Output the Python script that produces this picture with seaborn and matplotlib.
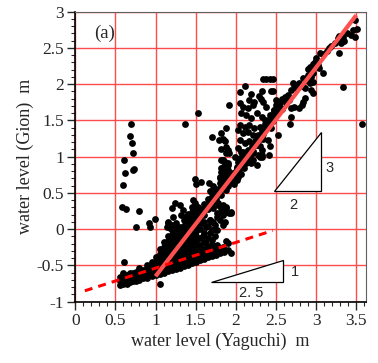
import numpy as np
import pandas as pd
import matplotlib.pyplot as plt
import seaborn as sns
from matplotlib.patches import Polygon
from matplotlib.ticker import MultipleLocator

sns.set_style("ticks")
plt.rcParams["font.family"] = ["Liberation Serif", "DejaVu Serif"]

# ---------------------------------------------------------------------------
# data: water level at Yaguchi (x) vs Gion (y), metres
# ---------------------------------------------------------------------------
# dense lower band, one column of y values per x
band_cols = {
    0.56: [-0.77, -0.72, -0.66],
    0.60: [-0.76, -0.70, -0.64, -0.60],
    0.64: [-0.75, -0.69, -0.63],
    0.68: [-0.73, -0.67, -0.61],
    0.72: [-0.72, -0.66, -0.60],
    0.76: [-0.71, -0.65, -0.59],
    0.80: [-0.70, -0.64, -0.58, -0.54],
    0.85: [-0.68, -0.62, -0.56],
    0.90: [-0.67, -0.60, -0.54, -0.49],
    0.95: [-0.65, -0.58, -0.52, -0.46],
    1.00: [-0.63, -0.56, -0.50, -0.44, -0.38],
    1.05: [-0.62, -0.55, -0.48, -0.41, -0.34, -0.28],
    1.10: [-0.60, -0.53, -0.46, -0.39, -0.32, -0.25, -0.18],
    1.15: [-0.58, -0.51, -0.44, -0.37, -0.30, -0.23, -0.16, -0.09],
    1.20: [-0.57, -0.50, -0.43, -0.36, -0.29, -0.22, -0.15, -0.08, -0.01],
    1.25: [-0.55, -0.48, -0.41, -0.34, -0.27, -0.20, -0.13, -0.06],
    1.30: [-0.53, -0.46, -0.39, -0.32, -0.25, -0.18, -0.11, -0.04, 0.03],
    1.35: [-0.51, -0.44, -0.37, -0.30, -0.23, -0.16, -0.09, -0.02, 0.05, 0.12],
    1.40: [-0.49, -0.42, -0.35, -0.28, -0.21, -0.14, -0.07, 0.00, 0.07, 0.14, 0.21],
    1.45: [-0.47, -0.40, -0.33, -0.26, -0.19, -0.12, -0.05, 0.02, 0.09, 0.16, 0.23, 0.30],
    1.50: [-0.45, -0.38, -0.31, -0.24, -0.17, -0.10, -0.03, 0.05, 0.12, 0.19, 0.26],
    1.55: [-0.43, -0.36, -0.29, -0.22, -0.12, 0.00, 0.14, 0.21, 0.28],
    1.60: [-0.41, -0.34, -0.27, -0.18, -0.05, 0.10, 0.20, 0.27, 0.34],
    1.65: [-0.39, -0.32, -0.25, -0.12, 0.05, 0.28, 0.35, 0.42],
    1.70: [-0.37, -0.30, -0.22, 0.36, 0.43, 0.50],
    1.75: [-0.35, -0.28, 0.42, 0.49, 0.56],
    1.80: [-0.33, -0.26, 0.50, 0.57, 0.64],
    1.85: [-0.31, 0.57, 0.64, 0.71],
    1.90: [-0.29, 0.65, 0.72, 0.79],
}

# scattered points to the left of the main cloud
left_x = [0.694, 0.685, 0.705, 0.72, 0.61, 0.72, 0.73, 0.62, 0.60, 0.585, 0.63,
          0.80, 0.995, 0.755, 0.92, 0.93, 0.606, 1.365, 1.53, 1.91, 1.05]
left_y = [1.45, 1.28, 1.19, 1.05, 0.95, 0.82, 0.83, 0.77, 0.61, 0.30, 0.28,
          0.255, 0.14, 0.035, 0.09, 0.035, -0.46, 1.455, 1.60, 1.71, -0.75]

# middle of the cloud, x 1.1 - 2.3
mid_x = [1.49, 1.50, 1.57, 1.67, 1.675, 1.70, 1.47, 1.49, 1.53, 1.59, 1.63, 1.72,
         1.82, 1.88, 1.90, 1.945, 1.97, 1.99, 2.01, 2.03, 1.84, 1.88, 1.86, 1.90, 1.92,
         1.78, 1.84, 1.88, 1.82, 1.92,
         1.30, 1.345, 1.32, 1.24, 1.20, 1.22, 1.16, 1.14, 1.20, 1.26, 1.28, 1.365, 1.385,
         1.45, 1.49, 1.51, 1.43, 1.57, 1.63, 1.68, 1.74,
         1.16, 1.18, 1.26, 1.30, 1.365,
         2.07, 2.11, 2.15, 2.19, 2.09, 2.05, 2.01, 1.80, 1.84, 1.88, 1.84, 1.90, 1.82,
         1.86, 2.32, 2.21, 2.26,
         1.72, 1.76, 1.70, 1.74, 1.78, 1.82, 1.72, 1.76, 1.84, 1.88, 1.945, 1.86, 1.84,
         1.80, 1.72, 1.70, 1.74, 1.70, 1.76, 1.88, 1.70,
         1.945, 1.90, 1.84, 1.76, 1.675, 1.59, 1.51,
         1.84, 1.88, 1.945, 1.76, 1.68, 1.59, 1.51, 1.45,
         1.675, 1.59, 1.51, 1.76, 1.63, 1.55, 1.47,
         2.19, 2.30, 2.32, 2.09, 2.13, 2.05, 2.01, 1.97, 2.03,
         1.82, 1.84, 1.86, 1.88, 1.90, 1.92, 1.82, 1.86, 1.84, 1.90, 1.82, 1.86, 1.80,
         1.70, 1.79, 1.81, 1.88]
mid_y = [0.69, 0.62, 0.655, 0.63, 0.52, 0.45, 0.40, 0.355, 0.31, 0.265, 0.33, 0.40,
         0.47, 0.54, 0.59, 0.655, 0.72, 0.79, 0.86, 0.93, 0.955, 1.05, 0.885, 0.82, 0.77,
         0.355, 0.33, 0.29, 0.24, 0.22,
         0.33, 0.265, 0.195, 0.355, 0.29, 0.17, 0.10, 0.035, 0.06, 0.08, 0.01, 0.17, 0.10,
         0.10, 0.06, 0.01, 0.01, 0.08, 0.035, 0.13, 0.06,
         0.08, 0.01, 0.035, -0.01, 0.06,
         1.07, 1.02, 0.955, 0.91, 0.98, 0.91, 0.84, 0.72, 0.68, 0.70, 0.955, 0.91, 0.84,
         0.79, 1.02, 0.955, 0.885,
         0.59, 0.54, 0.45, 0.40, 0.33, 0.29, 0.29, 0.22, 0.195, 0.24, 0.22, 0.10, 0.06,
         0.13, 0.10, -0.01, -0.10, -0.15, -0.22, -0.17, -0.24,
         -0.33, -0.195, -0.24, -0.265, -0.31, -0.33, -0.355,
         0.265, 0.31, 0.24, 0.17, 0.13, 0.08, 0.035, -0.01,
         -0.06, -0.10, -0.15, -0.01, -0.195, -0.24, -0.265,
         0.92, 1.00, 1.09, 1.00, 0.91, 0.86, 0.82, 0.77, 0.72,
         1.32, 1.25, 1.21, 1.39, 1.09, 1.05, 0.955, 0.92, 0.86, 0.885, 0.79, 0.75, 0.70,
         1.27, 1.23, 1.10, 1.13]

# upper-left lobe above the fitted line, x 2.0 - 2.5
upper_x = [2.34, 2.38, 2.42, 2.11, 2.05, 2.19, 2.32, 2.29, 2.31, 2.17, 2.23, 2.44,
           2.05, 2.09, 2.15, 2.21, 2.34, 2.38, 2.50, 2.07, 2.13, 2.19, 2.26, 2.32,
           2.36, 2.42, 2.48, 2.05, 2.11, 2.17, 2.23, 2.30, 2.38, 2.44, 2.03, 2.09,
           2.15, 2.21, 2.28, 2.34, 2.40, 2.05, 2.11, 2.17, 2.23, 2.30, 2.03, 2.09,
           2.15, 2.21, 2.28, 2.42, 2.41, 1.99, 2.05, 2.32, 2.53, 2.67, 3.57, 3.33]
upper_y = [2.07, 2.07, 2.07, 1.975, 1.89, 1.86, 1.90, 1.84, 1.80, 1.78, 1.76, 1.90,
           1.74, 1.69, 1.67, 1.71, 1.76, 1.69, 1.78, 1.60, 1.575, 1.53, 1.60, 1.55,
           1.51, 1.575, 1.64, 1.44, 1.41, 1.44, 1.39, 1.41, 1.44, 1.39, 1.37, 1.32,
           1.345, 1.30, 1.275, 1.25, 1.23, 1.23, 1.185, 1.21, 1.16, 1.14, 1.115, 1.07,
           1.09, 1.05, 1.02, 1.14, 1.02, 1.00, 0.98, 1.00, 1.30, 1.45, 1.45, 1.965]

# points hugging the fitted line, x 1.95 - 2.7
line_x = [1.95, 1.98, 2.00, 2.02, 2.04, 2.06, 2.08, 2.10, 2.12, 2.14, 2.16, 2.18,
          2.20, 2.22, 2.24, 2.26, 2.28, 2.30, 2.32, 2.34, 2.36, 2.38, 2.40, 2.42,
          2.44, 2.46, 2.48, 2.52, 2.55, 2.58, 2.62, 2.66]
line_y = [0.70, 0.62, 0.74, 0.68, 0.83, 0.76, 0.90, 0.84, 0.98, 0.92, 1.06, 1.00,
          1.14, 1.08, 1.22, 1.16, 1.30, 1.24, 1.36, 1.31, 1.45, 1.39, 1.50, 1.46,
          1.55, 1.49, 1.60, 1.62, 1.68, 1.66, 1.74, 1.78]

# top band, x 2.45 - 3.5
top_x = [3.49, 3.51, 3.46, 3.44, 3.49, 3.38, 3.34, 3.29, 3.27, 3.35, 3.31, 3.23,
         3.19, 3.16, 3.28, 3.13, 3.08, 3.05, 3.00, 2.98, 2.96, 2.92, 2.90, 2.95,
         3.02, 3.03, 3.08, 2.96, 2.94, 2.90, 2.84, 2.88, 2.92, 2.96, 2.79, 2.82,
         2.86, 2.71, 2.73, 2.75, 2.69, 2.46, 2.46, 2.65, 2.61, 2.58, 2.94, 2.96,
         2.86, 2.84, 2.82, 2.79, 2.73, 2.69, 2.55, 2.50, 2.47, 2.50, 2.46, 2.69]
top_y = [2.89, 2.76, 2.74, 2.68, 2.655, 2.71, 2.655, 2.665, 2.63, 2.59, 2.565, 2.565,
         2.52, 2.495, 2.435, 2.45, 2.42, 2.425, 2.36, 2.31, 2.28, 2.24, 2.205, 2.23,
         2.265, 2.22, 2.16, 2.15, 2.10, 2.13, 2.08, 2.05, 2.01, 2.03, 2.01, 1.97,
         1.94, 2.02, 1.99, 1.94, 1.92, 2.07, 1.91, 1.85, 1.82, 1.79, 1.92, 1.88,
         1.805, 1.76, 1.71, 1.67, 1.69, 1.67, 1.76, 1.71, 1.64, 1.60, 1.55, 1.54]

# fitted lines (end points) and slope triangles
fit_solid_x = [1.0, 3.5]
fit_solid_y = [-0.65, 2.95]
fit_dash_x = [0.12, 2.46]
fit_dash_y = [-0.85, -0.02]
tri_steep = [(2.475, 0.53), (3.056, 0.53), (3.056, 1.345)]
tri_flat = [(1.69, -0.73), (2.587, -0.73), (2.587, -0.425)]

x_ticks = [0, 0.5, 1, 1.5, 2, 2.5, 3, 3.5]
x_tick_labels = ["0", "0.5", "1", "1.5", "2", "2.5", "3", "3.5"]
y_ticks = [-1, -0.5, 0, 0.5, 1, 1.5, 2, 2.5, 3]
y_tick_labels = ["-1", "-0.5", "0", "0.5", "1", "1.5", "2", "2.5", "3"]

# ---------------------------------------------------------------------------
band_x = [x for x, ys in band_cols.items() for _ in ys]
band_y = [y for ys in band_cols.values() for y in ys]
df = pd.DataFrame({
    "yaguchi": band_x + left_x + mid_x + upper_x + line_x + top_x,
    "gion": band_y + left_y + mid_y + upper_y + line_y + top_y,
})

fig = plt.figure(figsize=(3.78, 3.63), dpi=100)
ax = fig.add_axes([0.199, 0.169, 0.769, 0.799])

sns.scatterplot(data=df, x="yaguchi", y="gion", color="black", s=24,
                linewidth=0, ax=ax, zorder=2, legend=False)

ax.set_xlim(0, 3.62)
ax.set_ylim(-1, 3)
ax.set_xticks(x_ticks)
ax.set_xticklabels(x_tick_labels)
ax.set_yticks(y_ticks)
ax.set_yticklabels(y_tick_labels)
ax.xaxis.set_minor_locator(MultipleLocator(0.1))
ax.yaxis.set_minor_locator(MultipleLocator(0.1))
ax.grid(True, which="major", color="#ff4d4d", lw=1.0, zorder=0)
ax.set_axisbelow(True)

ax.plot(fit_solid_x, fit_solid_y, color="#ff5050", lw=3.0, zorder=4,
        solid_capstyle="butt")
ax.plot(fit_dash_x, fit_dash_y, color="#ff0000", lw=2.2, zorder=4,
        linestyle=(0, (2.6, 2.0)))

for tri in (tri_steep, tri_flat):
    ax.add_patch(Polygon(tri, closed=True, facecolor="white", edgecolor="black",
                         lw=0.9, zorder=3))

sans = ["Liberation Sans", "DejaVu Sans"]
ax.text(3.17, 0.84, "3", family=sans, fontsize=10.5, ha="center", va="center")
ax.text(2.72, 0.33, "2", family=sans, fontsize=10.5, ha="center", va="center")
ax.text(2.74, -0.59, "1", family=sans, fontsize=10.5, ha="center", va="center")
ax.text(2.19, -0.88, "2. 5", family=sans, fontsize=10.5, ha="center", va="center")
ax.text(0.36, 2.70, "(a)", fontsize=13.5, ha="center", va="center")

ax.set_xlabel("water level (Yaguchi)  m", fontsize=13, labelpad=3)
ax.set_ylabel("water level (Gion)  m", fontsize=13, labelpad=2)
ax.tick_params(which="major", direction="out", length=6, width=1.0,
               labelsize=12.5, pad=2)
ax.tick_params(which="minor", direction="out", length=3, width=0.8)

for side in ("left", "bottom"):
    ax.spines[side].set_linewidth(1.2)
    ax.spines[side].set_color("black")
for side in ("top", "right"):
    ax.spines[side].set_linewidth(0.8)
    ax.spines[side].set_color("#606060")

fig.savefig("out.png", dpi=100)
